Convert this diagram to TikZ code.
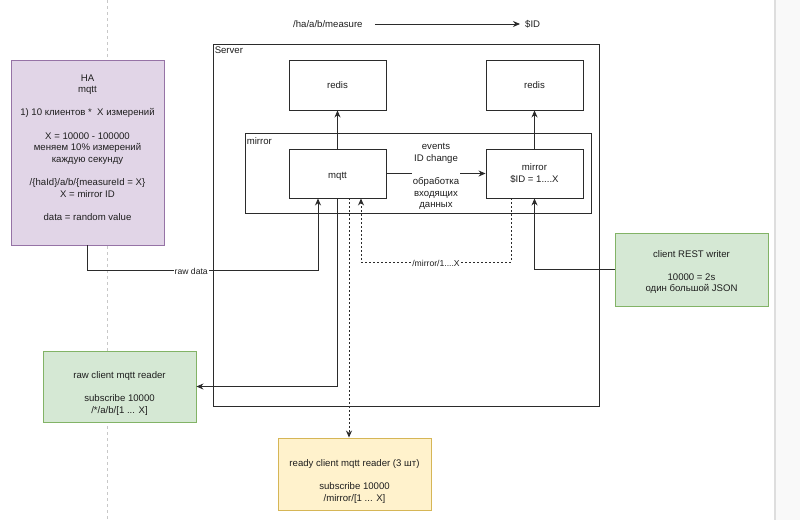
\documentclass[tikz,border=0pt]{standalone}
\usepackage{fontspec}
\setmainfont{Liberation Sans}
\usetikzlibrary{arrows.meta}
\definecolor{ln}{HTML}{2B2B2B}
\definecolor{txt}{HTML}{1E1E1E}
\definecolor{hafill}{HTML}{E1D5E7}
\definecolor{hadraw}{HTML}{9673A6}
\definecolor{gfill}{HTML}{D5E8D4}
\definecolor{gdraw}{HTML}{82B366}
\definecolor{yfill}{HTML}{FFF2CC}
\definecolor{ydraw}{HTML}{D6B656}
\definecolor{pagebrk}{HTML}{C8C8C8}
\definecolor{sidefill}{HTML}{F9F9F9}
\definecolor{sideline}{HTML}{DEDEDE}
\begin{document}
\begin{tikzpicture}[x=1pt,y=-1pt,
  font=\fontsize{9.6}{11.6}\selectfont,
  every node/.style={text=txt},
  box/.style={draw=ln, line width=0.9pt, fill=white, minimum width=97pt, minimum height=49pt, inner sep=0pt, align=center},
  cont/.style={draw=ln, line width=0.9pt, fill=white, inner sep=0pt},
  clabel/.style={anchor=north west, inner sep=1pt},
  notebox/.style={line width=0.9pt, minimum width=153pt, inner sep=0pt},
  notetext/.style={inner sep=0pt, align=center},
  arr/.style={draw=ln, line width=0.9pt, -{Stealth[length=7pt,width=6pt]}},
  dotarr/.style={arr, dash pattern=on 2pt off 2pt},
  elabel/.style={fill=white, inner sep=1pt, font=\fontsize{8.6}{10.4}\selectfont}
]
\useasboundingbox (0,0) rectangle (800,520);
% page break and side panel
\fill[white] (0,0) rectangle (800,520);
\fill[sidefill] (775,0) rectangle (800,520);
\draw[sideline, line width=1.5pt] (775,0) -- (775,520);
\draw[pagebrk, line width=0.6pt, dash pattern=on 3pt off 3pt] (107.5,0) -- (107.5,520);

% title
\node[anchor=west, inner sep=0pt] (tfrom) at (293,24) {/ha/a/b/measure};
\node[anchor=west, inner sep=0pt] (tto) at (525,24) {\$ID};
\draw[arr] ([xshift=12pt]tfrom.east) -- ([xshift=-5pt]tto.west);

% containers
\node[cont, minimum width=386pt, minimum height=362pt] (server) at (406,225) {};
\node[clabel] (serverlbl) at ([xshift=1pt,yshift=-2pt]server.north west) {Server};
\node[cont, minimum width=346pt, minimum height=80pt] (mirrorc) at (418,173) {};
\node[clabel] (mirrorlbl) at ([xshift=1pt,yshift=-4pt]mirrorc.north west) {mirror};

% inner boxes
\node[box, minimum height=50pt] (redisa) at (337.5,85) {redis};
\node[box, minimum height=50pt] (redisb) at (534.5,85) {redis};
\node[box] (mqtt) at (337.5,173.5) {};
\node[notetext] (mqtttext) at (337.5,176.5) {mqtt};
\node[box] (mirror) at (534.5,173.5) {mirror\\\$ID = 1....X};

% outer notes
\node[notebox, draw=hadraw, fill=hafill, minimum height=185pt] (ha) at (87.5,152.5) {};
\node[notetext] (hatext) at (87.5,147.5)
  {HA\\mqtt\\[11.6pt]1) 10 клиентов *\ \ X измерений\\[11.6pt]X = 10000 - 100000\\меняем 10\% измерений\\каждую секунду\\[11.6pt]/\{haId\}/a/b/\{measureId = X\}\\X = mirror ID\\[11.6pt]data = random value};
\node[notebox, draw=gdraw, fill=gfill, minimum height=73pt] (rest) at (691.5,269.5) {};
\node[notetext] (resttext) at (691.5,272)
  {client REST writer\\[11.6pt]10000 = 2s\\один большой JSON};
\node[notebox, draw=gdraw, fill=gfill, minimum height=71pt] (raw) at (119.5,386.5) {};
\node[notetext] (rawtext) at (119.5,393.5)
  {raw client mqtt reader\\[11.6pt]subscribe 10000\\/*/a/b/[1 ... X]};
\node[notebox, draw=ydraw, fill=yfill, minimum height=72pt] (ready) at (354.5,474) {};
\node[notetext] (readytext) at (354.5,481.5)
  {ready client mqtt reader (3 шт)\\[11.6pt]subscribe 10000\\/mirror/[1 ... X]};

% connectors
\draw[arr] (mqtt.north) -- (redisa.south);
\draw[arr] (mirror.north) -- (redisb.south);
\draw[arr] (mqtt.east) -- node[fill=white, inner sep=1pt, align=center, yshift=-3pt] (evlbl)
  {events\\ID change\\[11.6pt]обработка\\входящих\\данных} (mirror.west);

\coordinate (rawturn) at (87.5,270);
\draw[arr] (ha.south) -- (rawturn) -| node[elabel, pos=0.225, yshift=-1pt] (rawlbl) {raw data} ([xshift=-19.5pt]mqtt.south);

\draw[arr] (mqtt.south) |- (raw.east);
\draw[dotarr] ([xshift=11.5pt]mqtt.south) -- ([xshift=11.5pt]mqtt.south |- ready.north);

\coordinate (mirturn) at (361,262);
\draw[dotarr] ([xshift=-23.5pt]mirror.south) |- node[elabel, pos=0.75, yshift=-1pt] (mirlbl) {/mirror/1....X} (mirturn) -- ([xshift=23.5pt]mqtt.south);

\draw[arr] (rest.west) -| (mirror.south);
\end{tikzpicture}
\end{document}
